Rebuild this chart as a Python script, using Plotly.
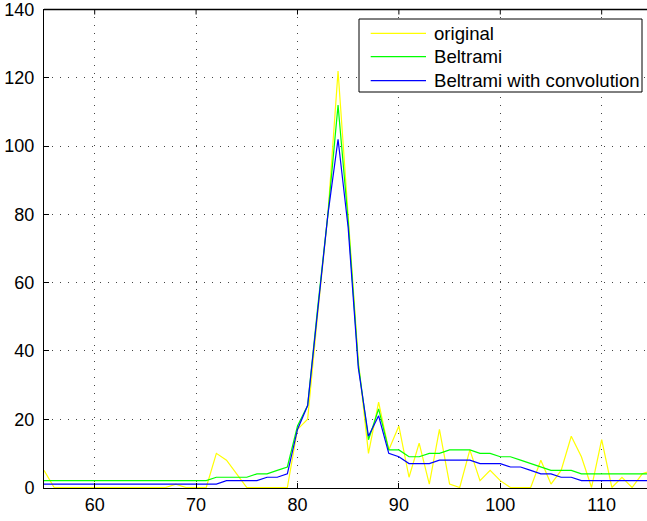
import plotly.graph_objects as go

x_values = list(range(55, 116))

original = [5, 0, 0, 0, 0, 0, 0, 0, 0, 0, 0, 0, 0, 1, 0, 0, 0, 10, 8, 4,
            0, 0, 0, 0, 0,
            17, 20, 51, 80, 122, 80, 37, 10, 25, 11,
            18, 3, 13, 1, 17, 1, 0, 11, 2, 5,
            2, 0, 0, 0, 8, 1, 5, 15, 9, 0,
            14, 0, 3, 0, 4, 5]

beltrami = [2, 2, 2, 2, 2, 2, 2, 2, 2, 2, 2, 2, 2, 2, 2, 2, 2, 3, 3, 3,
            3, 4, 4, 5, 6,
            18, 24, 53, 80, 112, 78, 36, 14, 23, 11,
            11, 9, 9, 10, 10, 11, 11, 11, 10, 10,
            9, 9, 8, 7, 6, 5, 5, 5, 4, 4,
            4, 4, 4, 4, 4, 4]

beltrami_conv = [1, 1, 1, 1, 1, 1, 1, 1, 1, 1, 1, 1, 1, 1, 1, 1, 1, 1, 2, 2,
                 2, 2, 3, 3, 4,
                 17, 24, 53, 80, 102, 76, 35, 15, 21, 10,
                 9, 7, 7, 7, 8, 8, 8, 8, 7, 7,
                 7, 6, 6, 5, 4, 4, 3, 3, 2, 2,
                 2, 2, 2, 2, 2, 2]

series_names = ["original", "Beltrami", "Beltrami with convolution"]
series_colors = ["#ffff00", "#00ff00", "#0000ff"]

x_ticks = [60, 70, 80, 90, 100, 110]
y_ticks = [0, 20, 40, 60, 80, 100, 120, 140]

font_family = "Liberation Sans, Arial, Helvetica, sans-serif"

W, H = 647, 521
ML, MR, MT, MB = 44, 0, 9, 33
PW, PH = W - ML - MR, H - MT - MB


def px_x(p):
    return (p - ML) / PW


def px_y(p):
    return (H - MB - p) / PH


fig = go.Figure()
for name, ys, col in zip(series_names, [original, beltrami, beltrami_conv], series_colors):
    fig.add_trace(go.Scatter(x=x_values, y=ys, mode="lines", name=name,
                             line=dict(color=col, width=1.2), showlegend=False))

top_y = 1 - 0.5 / PH
shapes = [
    dict(type="rect", xref="paper", yref="paper",
         x0=px_x(359), x1=px_x(642), y0=px_y(92), y1=px_y(19),
         line=dict(color="black", width=1), fillcolor="white", layer="above"),
    # top frame line of the axes box
    dict(type="line", xref="paper", yref="paper", x0=0, x1=1, y0=top_y, y1=top_y,
         line=dict(color="black", width=1.5), layer="above"),
]
# inward tick marks along the top frame
for tv in x_ticks:
    shapes.append(dict(type="line", xref="x", yref="paper", x0=tv, x1=tv,
                       y0=top_y, y1=top_y - 5 / PH,
                       line=dict(color="black", width=1), layer="above"))

annotations = []
row_y = [33.3, 56.7, 80.7]
for name, col, ry in zip(series_names, series_colors, row_y):
    shapes.append(dict(type="line", xref="paper", yref="paper",
                       x0=px_x(370.7), x1=px_x(426), y0=px_y(ry), y1=px_y(ry),
                       line=dict(color=col, width=1.2), layer="above"))
    annotations.append(dict(xref="paper", yref="paper", x=px_x(431.5), y=px_y(ry),
                            xanchor="left", yanchor="middle", showarrow=False,
                            text=name, font=dict(family=font_family, size=18.6, color="black")))

fig.update_layout(
    width=W, height=H,
    margin=dict(l=ML, r=MR, t=MT, b=MB),
    paper_bgcolor="white", plot_bgcolor="white",
    font=dict(family=font_family, size=18, color="black"),
    showlegend=False,
    shapes=shapes,
    annotations=annotations,
    xaxis=dict(
        range=[55, 114.47], tickvals=x_ticks, ticktext=[str(v) for v in x_ticks],
        showline=True, linecolor="black", linewidth=1,
        ticks="inside", ticklen=5, tickcolor="black", ticklabeloverflow="allow",
        showgrid=True, gridcolor="#444444", gridwidth=1, griddash="1px,7px",
        zeroline=False,
    ),
    yaxis=dict(
        range=[-0.15, 140.15], tickvals=y_ticks, ticktext=[str(v) for v in y_ticks],
        showline=True, linecolor="black", linewidth=1,
        ticks="inside", ticklen=5, tickcolor="black", ticklabelstandoff=5,
        ticklabeloverflow="allow",
        showgrid=True, gridcolor="#444444", gridwidth=1, griddash="1px,7px",
        zeroline=False,
    ),
)

fig.write_html("out.html", config={"displayModeBar": False})
